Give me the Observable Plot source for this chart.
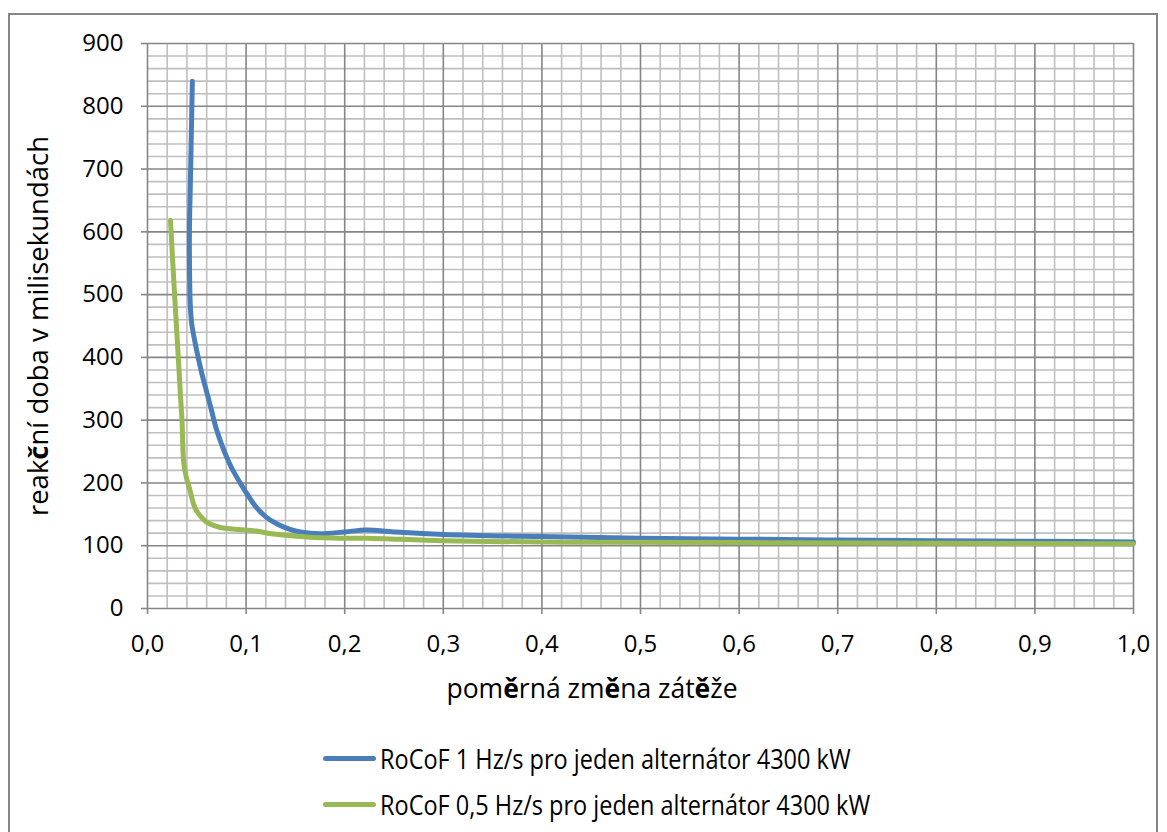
<!DOCTYPE html>
<html>
<head>
<meta charset="utf-8">
<script src="https://cdn.jsdelivr.net/npm/d3@7"></script>
<script src="https://cdn.jsdelivr.net/npm/@observablehq/plot@0.6"></script>
<style>
  html, body { margin: 0; padding: 0; background: #fff; }
  body { width: 1167px; height: 832px; position: relative; overflow: hidden; font-family: "Open Sans", sans-serif; }
  #frame { position: absolute; left: 8px; top: 13px; width: 1150px; height: 830px; border: 2px solid #868686; box-sizing: border-box; }
  #chart { position: absolute; left: 0; top: 0; }
  .title { position: absolute; color: #000; white-space: nowrap; line-height: 1; }
  #xtitle { left: 592px; top: 688px; font-size: 26.5px; transform: translate(-50%, -50%); }
  #ytitle { left: 38px; top: 326px; font-size: 27.5px; transform: translate(-50%, -50%) rotate(-90deg); }
  .legrow { position: absolute; left: 323px; display: flex; align-items: center; font-family: "Open Sans", sans-serif; font-size: 27px; color: #000; white-space: nowrap; }
  .legtext { display: inline-block; transform: scaleX(0.87); transform-origin: 0 50%; }
  .swatch { width: 53px; height: 5px; border-radius: 3px; margin-right: 4px; }
</style>
</head>
<body>
<div id="frame"></div>
<div id="chart"></div>
<div class="title" id="xtitle">pom<b>ě</b>rná zm<b>ě</b>na zát<b>ě</b>že</div>
<div class="title" id="ytitle">reak<b>č</b>ní doba v milisekundách</div>
<div id="legend"></div>
<script>
// Series 1: RoCoF 1 Hz/s
const blueX = [0.0455, 0.0445, 0.0435, 0.0425, 0.0428, 0.0435, 0.045, 0.050, 0.055, 0.060, 0.065, 0.070, 0.076, 0.085, 0.094, 0.102, 0.110, 0.120, 0.131, 0.143, 0.155, 0.175, 0.200, 0.222, 0.250, 0.300, 0.400, 0.500, 0.600, 0.700, 0.800, 0.900, 1.000];
const blueY = [840, 760, 680, 600, 520, 480, 452, 410, 375, 345, 315, 285, 258, 225, 200, 180, 162, 146, 135, 127, 122, 119, 122, 125, 122, 118, 114.5, 112, 110.5, 109, 108, 107, 106];
// Series 2: RoCoF 0,5 Hz/s
const greenX = [0.0233, 0.0274, 0.0305, 0.0335, 0.035, 0.0368, 0.0395, 0.043, 0.047, 0.050, 0.055, 0.0605, 0.074, 0.091, 0.110, 0.128, 0.162, 0.196, 0.2225, 0.300, 0.400, 0.460, 0.600, 0.800, 1.000];
const greenY = [618, 502, 420, 337, 300, 231, 208, 189, 165, 155, 145, 137, 129, 126, 123.4, 118.6, 114, 112, 112, 108, 106, 105.4, 105, 104, 103];

const seriesNames = ["RoCoF 1 Hz/s pro jeden alternátor 4300 kW", "RoCoF 0,5 Hz/s pro jeden alternátor 4300 kW"];
const seriesColors = ["#4a7ebb", "#98b954"];

const xMajor = [0, 0.1, 0.2, 0.3, 0.4, 0.5, 0.6, 0.7, 0.8, 0.9, 1.0];
const xMinor = [0.02, 0.04, 0.06, 0.08, 0.12, 0.14, 0.16, 0.18, 0.22, 0.24, 0.26, 0.28, 0.32, 0.34, 0.36, 0.38, 0.42, 0.44, 0.46, 0.48, 0.52, 0.54, 0.56, 0.58, 0.62, 0.64, 0.66, 0.68, 0.72, 0.74, 0.76, 0.78, 0.82, 0.84, 0.86, 0.88, 0.92, 0.94, 0.96, 0.98];
const yMajor = [0, 100, 200, 300, 400, 500, 600, 700, 800, 900];
const yMinor = [20, 40, 60, 80, 120, 140, 160, 180, 220, 240, 260, 280, 320, 340, 360, 380, 420, 440, 460, 480, 520, 540, 560, 580, 620, 640, 660, 680, 720, 740, 760, 780, 820, 840, 860, 880];

const blue = blueX.map((x, i) => ({x, y: blueY[i]}));
const green = greenX.map((x, i) => ({x, y: greenY[i]}));
const fmtX = d => d.toFixed(1).replace(".", ",");

const chart = Plot.plot({
  width: 1167,
  height: 660,
  marginLeft: 147,
  marginRight: 34,
  marginTop: 43,
  marginBottom: 52,
  x: {domain: [0, 1]},
  y: {domain: [0, 900]},
  style: {fontFamily: "'Open Sans', sans-serif", fontSize: "24px", color: "#000", background: "transparent"},
  marks: [
    Plot.ruleX(xMinor, {stroke: "#bfbfbf", strokeWidth: 1.6, strokeOpacity: 1}),
    Plot.ruleY(yMinor, {stroke: "#bfbfbf", strokeWidth: 1.6, strokeOpacity: 1}),
    Plot.ruleX(xMajor, {stroke: "#868686", strokeWidth: 1.6, strokeOpacity: 1}),
    Plot.ruleY(yMajor, {stroke: "#868686", strokeWidth: 1.6, strokeOpacity: 1}),
    Plot.axisX({ticks: xMajor, tickFormat: fmtX, tickSize: 6, tickPadding: 20, stroke: "#868686", strokeWidth: 1.6, strokeOpacity: 1, label: null, fontSize: 24, fill: "#000"}),
    Plot.axisY({ticks: yMajor, tickSize: 6, tickPadding: 18, stroke: "#868686", strokeWidth: 1.6, strokeOpacity: 1, label: null, fontSize: 24, fill: "#000"}),
    Plot.line(blue, {x: "x", y: "y", stroke: seriesColors[0], strokeWidth: 5, curve: "catmull-rom", strokeLinecap: "round", strokeLinejoin: "round"}),
    Plot.line(green, {x: "x", y: "y", stroke: seriesColors[1], strokeWidth: 5, curve: "catmull-rom", strokeLinecap: "round", strokeLinejoin: "round"})
  ]
});
document.getElementById("chart").appendChild(chart);

const legend = document.getElementById("legend");
const legendTops = [758, 804];
seriesNames.forEach((name, i) => {
  const row = document.createElement("div");
  row.className = "legrow";
  row.style.top = (legendTops[i] - 16) + "px";
  row.style.height = "32px";
  const sw = document.createElement("div");
  sw.className = "swatch";
  sw.style.background = seriesColors[i];
  const t = document.createElement("span");
  t.className = "legtext";
  t.textContent = name;
  row.appendChild(sw);
  row.appendChild(t);
  legend.appendChild(row);
});
</script>
</body>
</html>
